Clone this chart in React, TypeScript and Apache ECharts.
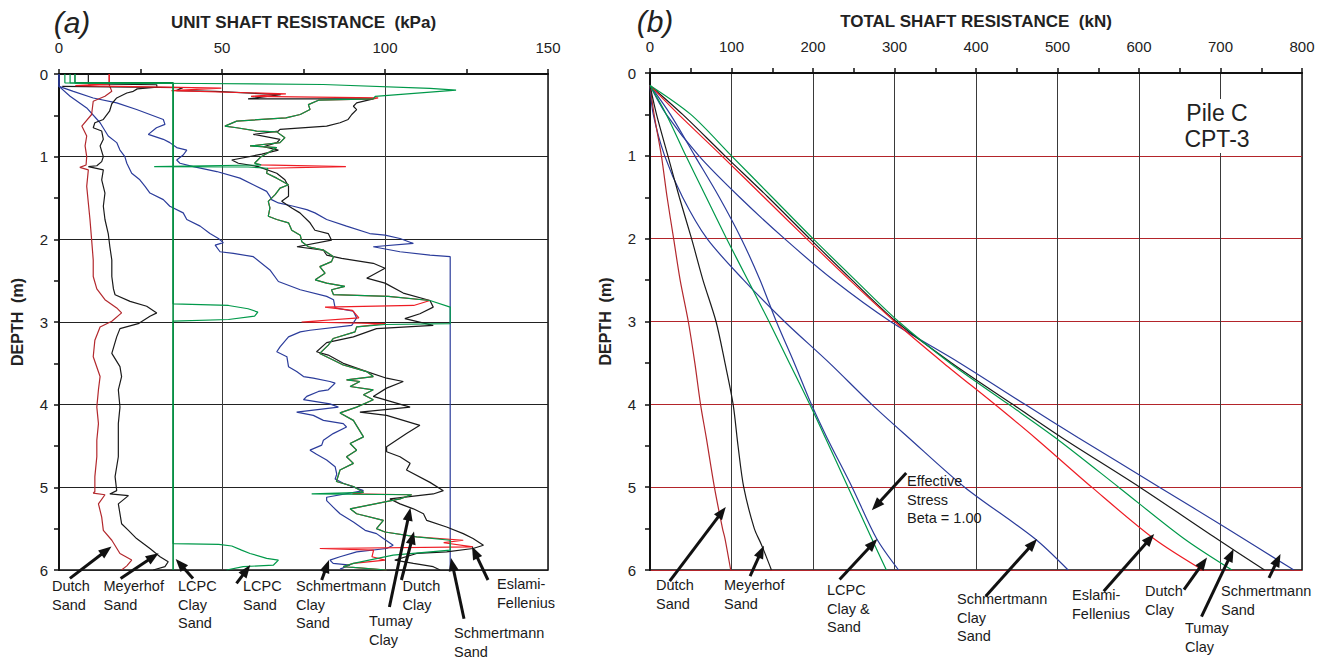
import React, { useEffect, useRef } from "react";
import * as echarts from "echarts";

type Pt = [number, number];

// ---------- Panel (a): unit shaft resistance [kPa, depth m] ----------
const unitDutchSand: Pt[] = [[15.4,0],[15.4,0.13],[16.2,0.21],[14.1,0.27],[10.5,0.33],[10,0.49],[7,0.63],[8.5,0.75],[8,0.87],[8.5,1.0],[8.3,1.1],[6.4,1.13],[9,1.16],[8.5,1.36],[9,1.56],[9.5,1.76],[10,2.0],[10.5,2.25],[10.5,2.45],[11.6,2.6],[14.1,2.73],[17.7,2.83],[19.2,2.89],[16.2,2.99],[12.6,3.06],[11,3.22],[10.5,3.42],[12.6,3.66],[12.1,3.82],[11.6,4.03],[12.1,4.23],[11.6,4.43],[11.6,4.63],[11,4.87],[11,5.05],[10.5,5.07],[14.1,5.09],[12.1,5.2],[13.1,5.36],[13.6,5.52],[16.2,5.64],[18.7,5.8],[22.3,5.88],[20.8,5.95],[19.2,6.0]];
const unitMeyerhofSand: Pt[] = [[9,0],[9,0.12],[30,0.13],[30,0.16],[24,0.18],[22.8,0.21],[20.8,0.23],[17.7,0.29],[16.2,0.36],[15.5,0.45],[13.6,0.55],[11,0.59],[10.5,0.65],[13.1,0.69],[13.6,0.79],[12.6,0.87],[13.6,1.0],[13.1,1.06],[11.6,1.11],[9,1.12],[13.6,1.16],[13.1,1.28],[14.1,1.44],[13.6,1.6],[14.1,1.76],[15.1,1.93],[15.6,2.09],[16.2,2.25],[16.2,2.45],[16.7,2.6],[17.2,2.67],[21.8,2.75],[26.9,2.81],[30,2.89],[27.9,2.93],[24.3,3.02],[18.7,3.08],[17.7,3.18],[16.2,3.38],[18.7,3.54],[19.2,3.66],[18.2,3.82],[18.7,4.03],[18.2,4.23],[18.2,4.43],[18.2,4.63],[17.2,4.87],[17.7,5.04],[15.6,5.08],[21.3,5.1],[18.2,5.2],[19.2,5.44],[21.3,5.52],[23.8,5.62],[27.9,5.74],[31,5.84],[33.5,5.9],[32.5,5.96],[28.9,6.0]];
const unitLcpcClaySand: Pt[] = [[4.9,0],[4.9,0.107],[35,0.107],[35,6]];
const unitLcpcSand: Pt[] = [[1.8,0],[1.8,0.107],[35,0.115],[35,2.78],[52,2.8],[58,2.84],[61,2.88],[60,2.93],[52,2.97],[35,2.99],[35,5.68],[49,5.69],[53,5.71],[56,5.76],[58.6,5.8],[63.7,5.86],[67.3,5.88],[65.8,5.94],[56.5,5.96],[51.4,6.0]];
const unitTumayClay: Pt[] = [[3.4,0],[3.4,0.107],[43,0.115],[81,0.127],[113.8,0.175],[121.8,0.196],[97,0.27],[96.4,0.3],[79.6,0.317],[76.5,0.37],[77,0.43],[74,0.49],[69.6,0.53],[54.5,0.57],[50.9,0.63],[54.5,0.65],[60.6,0.69],[66.8,0.7],[69.3,0.77],[67.8,0.83],[58.6,0.87],[66.8,0.89],[64.7,0.94],[62,1.0],[60,1.08],[62,1.1],[29.2,1.12],[58,1.125],[64,1.14],[63.7,1.2],[66.8,1.26],[70.4,1.34],[67.8,1.38],[66.3,1.46],[64.2,1.54],[64.7,1.62],[64.2,1.72],[66.8,1.76],[70.4,1.8],[71.4,1.89],[74,1.95],[74.5,2.03],[76.5,2.09],[81.1,2.13],[84.2,2.21],[83.6,2.27],[80,2.33],[81.6,2.41],[78.6,2.49],[82.1,2.53],[87.7,2.57],[83.6,2.61],[84.2,2.67],[101,2.69],[113.8,2.74],[120,2.82],[120,3.02],[100,3.03],[91.3,3.06],[90.8,3.12],[84.1,3.2],[82.6,3.28],[80,3.38],[84.1,3.46],[87.2,3.52],[94.4,3.6],[96.4,3.66],[88.2,3.7],[92.3,3.72],[89.3,3.78],[96.4,3.82],[93.4,3.88],[96.4,3.94],[91.3,4.03],[86.2,4.1],[90.3,4.19],[93.4,4.39],[89.3,4.47],[91.3,4.55],[88.2,4.63],[90.3,4.71],[86.2,4.79],[85.1,4.93],[90.3,4.99],[93.4,5.06],[77.5,5.08],[108.2,5.09],[104.6,5.14],[89.3,5.26],[91.3,5.32],[99.5,5.4],[97.4,5.5],[100,5.54],[109.7,5.6],[120,5.64],[120,5.76],[102.5,5.82],[90.3,5.92],[87.2,5.96],[100.5,6.0]];
const unitDutchClay: Pt[] = [[15.4,0],[15.4,0.12],[5,0.14],[49.8,0.17],[34.5,0.2],[69.6,0.24],[58.9,0.27],[97.9,0.29],[96.4,0.3],[79.6,0.317],[76.5,0.37],[77,0.43],[74,0.49],[69.6,0.53],[54.5,0.57],[50.9,0.63],[54.5,0.65],[60.6,0.69],[66.8,0.7],[69.3,0.77],[67.8,0.83],[58.6,0.87],[66.8,0.89],[64.7,0.94],[62,1.0],[60,1.08],[62,1.1],[88,1.12],[64,1.14],[63.7,1.2],[66.8,1.26],[70.4,1.34],[67.8,1.38],[66.3,1.46],[64.2,1.54],[64.7,1.62],[64.2,1.72],[66.8,1.76],[70.4,1.8],[71.4,1.89],[74,1.95],[74.5,2.03],[76.5,2.09],[81.1,2.13],[84.2,2.21],[83.6,2.27],[80,2.33],[81.6,2.41],[78.6,2.49],[82.1,2.53],[87.7,2.57],[83.6,2.61],[84.2,2.67],[101,2.69],[113.8,2.74],[108.8,2.8],[81.6,2.82],[90,2.86],[92,2.95],[74.4,3.0],[100,3.02],[91.3,3.06],[90.8,3.12],[84.1,3.2],[82.6,3.28],[80,3.38],[84.1,3.46],[87.2,3.52],[94.4,3.6],[96.4,3.66],[88.2,3.7],[92.3,3.72],[89.3,3.78],[96.4,3.82],[93.4,3.88],[96.4,3.94],[91.3,4.03],[86.2,4.1],[90.3,4.19],[93.4,4.39],[89.3,4.47],[91.3,4.55],[88.2,4.63],[90.3,4.71],[86.2,4.79],[85.1,4.93],[90.3,4.99],[93.4,5.06],[90,5.08],[108.2,5.09],[104.6,5.14],[89.3,5.26],[91.3,5.32],[99.5,5.4],[97.4,5.5],[100,5.54],[109.7,5.6],[124,5.64],[118,5.67],[127,5.72],[80,5.74],[96.5,5.76],[96,5.84],[100,5.88],[90.3,5.92],[87.2,5.96],[100.5,6.0]];
const unitEslami: Pt[] = [[1,0.15],[38,0.165],[36,0.2],[48,0.21],[68,0.25],[58,0.3],[96.4,0.3],[91.3,0.35],[90.3,0.39],[91.3,0.43],[89.8,0.49],[88.7,0.55],[86.2,0.59],[82.1,0.63],[67.8,0.67],[67.3,0.69],[59.6,0.73],[67.8,0.79],[66.8,0.83],[62.7,0.88],[67.3,0.92],[62.2,0.97],[53,1.04],[55,1.08],[61.1,1.12],[66.8,1.2],[69.3,1.28],[70.4,1.36],[70.4,1.48],[68.3,1.54],[71.4,1.62],[73.9,1.68],[77,1.8],[78.5,1.89],[82.6,1.93],[83.6,2.01],[73,2.09],[81.1,2.13],[82.1,2.19],[86.7,2.23],[96.4,2.29],[100,2.35],[94.4,2.47],[100,2.53],[105.6,2.65],[113.8,2.74],[114.8,2.82],[110.7,2.9],[106.1,2.96],[114.8,3.04],[97.4,3.08],[90.3,3.18],[82.1,3.25],[79,3.36],[82.6,3.4],[87.2,3.5],[94.4,3.6],[100.5,3.68],[105.6,3.72],[100.5,3.8],[96.4,3.9],[107.7,4.03],[92.3,4.09],[100.5,4.13],[110.7,4.25],[106.6,4.35],[100.5,4.51],[100.5,4.57],[104.6,4.63],[107.7,4.71],[106.6,4.79],[113.8,4.94],[117.9,5.04],[114.8,5.08],[101.5,5.14],[104.6,5.2],[108.7,5.26],[111.8,5.32],[112.8,5.4],[118.9,5.48],[124,5.56],[127,5.62],[130.2,5.7],[127,5.74],[118.9,5.78],[109.7,5.8],[103,5.88],[108.7,5.92],[114.8,5.96],[116.9,6.0]];
const unitSchmClaySand: Pt[] = [[0,0],[0,0.15],[3.4,0.27],[8.5,0.41],[12.6,0.59],[15.1,0.75],[17.7,0.83],[18.7,0.92],[20.2,1.0],[20.8,1.08],[22.3,1.2],[24.8,1.28],[26.4,1.36],[27.9,1.44],[32,1.52],[34,1.6],[38.1,1.68],[39.2,1.76],[43.3,1.84],[46.3,1.93],[48.9,1.99],[50.4,2.04],[47.9,2.07],[49.4,2.15],[53.5,2.17],[59.6,2.21],[64.7,2.37],[67.3,2.51],[74,2.61],[82.1,2.69],[84.2,2.73],[84.7,2.83],[90.3,2.87],[91.3,2.95],[89.8,3.04],[77,3.1],[74,3.12],[70.4,3.18],[67.8,3.3],[66.8,3.36],[69.9,3.42],[70.4,3.54],[72.9,3.6],[75,3.66],[78,3.68],[83.1,3.72],[84.7,3.74],[82.6,3.82],[79.6,3.84],[76,3.9],[75,3.94],[83.1,3.99],[85.7,4.03],[72.9,4.09],[78,4.13],[81.1,4.19],[87.2,4.23],[88.2,4.27],[84.1,4.35],[81.1,4.43],[80.6,4.49],[77,4.55],[79,4.6],[82.1,4.67],[84.7,4.75],[85.2,4.84],[84.7,4.9],[87.2,4.95],[93.4,5.04],[82.1,5.12],[82.1,5.16],[84.1,5.24],[86.2,5.32],[90.3,5.42],[93.9,5.52],[97.4,5.56],[99.5,5.62],[102.5,5.7],[100.5,5.74],[91.3,5.78],[86.2,5.84],[83.1,5.88],[84.1,5.92],[89.3,5.94],[86.2,5.99]];
const unitSchmSand: Pt[] = [[0,0],[0,0.15],[4.4,0.21],[10.5,0.29],[17.7,0.35],[23.8,0.43],[27.9,0.49],[32,0.55],[32.5,0.61],[29.9,0.65],[27.4,0.73],[32,0.79],[34,0.83],[36.1,0.89],[39.2,0.92],[38.1,0.98],[36.1,1.04],[37.1,1.08],[41.2,1.12],[48.4,1.18],[55.5,1.26],[59.6,1.34],[63.7,1.42],[64.7,1.48],[65.2,1.52],[67.3,1.56],[71.9,1.6],[76,1.64],[78.5,1.68],[82.1,1.76],[88.2,1.84],[95.3,1.93],[100,1.95],[104.6,1.99],[108.7,2.05],[96.4,2.09],[104.6,2.15],[113.8,2.19],[120,2.21],[120,6.0]];

// ---------- Panel (b): total shaft resistance [kN, depth m] ----------
const totDutchSand: Pt[] = [[0,0.15],[5,0.5],[14,1],[21,1.5],[29,2],[37,2.5],[47,3],[55,3.5],[62,4],[69,4.4],[79,5],[89,5.5],[92,5.62],[99,6]];
const totMeyerhofSand: Pt[] = [[0,0.15],[8,0.5],[22,1],[36,1.5],[51,2],[65,2.5],[81,3],[92,3.5],[102,4],[108,4.5],[115,5],[128,5.5],[137,5.7],[149,6]];
const totLcpc: Pt[] = [[0,0.15],[20,0.5],[44,1],[69,1.5],[94,2],[120,2.5],[146,3],[171,3.5],[196,4],[215,4.4],[243,5],[272,5.62],[290,6]];
const totEffStress: Pt[] = [[0,0.15],[25,0.5],[55,1],[85,1.5],[112,2],[135,2.5],[155,3],[177,3.5],[198,4],[217,4.4],[248,5],[278,5.62],[305,6]];
const totSchmClaySand: Pt[] = [[0,0.15],[4,0.5],[18,1],[40,1.5],[70,2],[115,2.5],[165,3],[220,3.5],[272,4],[317,4.4],[386,5],[472,5.62],[513,6]];
const totEslami: Pt[] = [[0,0.15],[35,0.5],[88,1],[140,1.5],[192,2],[245,2.5],[300,3],[360,3.5],[423,4],[472,4.4],[542,5],[618,5.62],[678,6]];
const totDutchClay: Pt[] = [[0,0.15],[50,0.5],[100,1],[150,1.5],[200,2],[252,2.5],[305,3],[368,3.5],[440,4],[497,4.4],[575,5],[655,5.62],[714,6]];
const totTumayClay: Pt[] = [[0,0.15],[40,0.5],[92,1],[145,1.5],[196,2],[248,2.5],[302,3],[370,3.5],[445,4],[505,4.4],[601,5],[695,5.62],[754,6]];
const totSchmSand: Pt[] = [[0,0.15],[20,0.5],[60,1],[110,1.5],[165,2],[225,2.5],[295,3],[380,3.5],[460,4],[525,4.4],[625,5],[708,5.5],[790,6]];

// ---------- texts ----------
const labelsA = [
  { t: "Dutch\nSand", x: 52, y: 586 },
  { t: "Meyerhof\nSand", x: 103.5, y: 586 },
  { t: "LCPC\nClay\nSand", x: 178, y: 586 },
  { t: "LCPC\nSand", x: 243, y: 586 },
  { t: "Schmertmann\nClay\nSand", x: 296, y: 586 },
  { t: "Dutch\nClay", x: 402.5, y: 586 },
  { t: "Tumay\nClay", x: 369, y: 621 },
  { t: "Schmertmann\nSand", x: 454, y: 633 },
  { t: "Eslami-\nFellenius", x: 497, y: 584 },
];
const labelsB = [
  { t: "Dutch\nSand", x: 656, y: 585 },
  { t: "Meyerhof\nSand", x: 724, y: 585 },
  { t: "LCPC\nClay &\nSand", x: 827, y: 590 },
  { t: "Schmertmann\nClay\nSand", x: 957, y: 599 },
  { t: "Eslami-\nFellenius", x: 1072, y: 595 },
  { t: "Dutch\nClay", x: 1145, y: 591 },
  { t: "Tumay\nClay", x: 1185, y: 628 },
  { t: "Schmertmann\nSand", x: 1221, y: 591 },
  { t: "Effective\nStress\nBeta = 1.00", x: 907, y: 481 },
];
const arrowsA: number[][] = [
  [69.9, 578.4, 111.5, 546.5], [120.6, 578.4, 158.6, 553.2], [193, 578.4, 175.7, 559],
  [236.5, 583.4, 250.3, 565], [321.7, 580, 329, 560], [389.4, 607, 410.4, 507.8],
  [401.4, 580, 414, 531.4], [464, 618.7, 451, 558], [488, 580, 472, 546.5],
];
const arrowsB: number[][] = [
  [669.7, 581.2, 725.8, 506.9], [750.1, 576.2, 763.9, 545.7], [839.6, 579.5, 877.3, 539],
  [906.2, 473.1, 871.8, 510.3], [985.7, 596.3, 1037.1, 539], [1103.7, 591.3, 1154.2, 533.9],
  [1184, 589.6, 1207, 557.5], [1201.5, 616.6, 1233.6, 549], [1269, 577.8, 1280.5, 554.1],
];

const FONT = "'Liberation Sans', Arial, Helvetica, sans-serif";
const RED = "#ee1c24";
const DARKRED = "#b3282d";
const GREEN = "#00994a";
const BLUE = "#2b3c9b";
const BLACK = "#1a1a1a";

function arrow(a: number[]) {
  const [x1, y1, x2, y2] = a;
  const dx = x2 - x1, dy = y2 - y1;
  const L = Math.hypot(dx, dy);
  const ux = dx / L, uy = dy / L;
  const hl = 13, hw = 5;
  const bx = x2 - ux * hl, by = y2 - uy * hl;
  return [
    { type: "line", silent: true, z: 50, shape: { x1, y1, x2: bx + ux * 2, y2: by + uy * 2 }, style: { stroke: "#111", lineWidth: 3 } },
    { type: "polygon", silent: true, z: 50, shape: { points: [[x2, y2], [bx - uy * hw, by + ux * hw], [bx + uy * hw, by - ux * hw]] }, style: { fill: "#111" } },
  ];
}

function label(l: { t: string; x: number; y: number }) {
  return {
    type: "text", silent: true, z: 50, x: l.x, y: l.y - 9.5,
    style: { text: l.t, fill: "#1a1a1a", font: `14.5px ${FONT}`, lineHeight: 18.7, align: "left", verticalAlign: "top" },
  };
}

function ser(name: string, data: Pt[], color: string, idx: number, width = 1.2, smooth: number | boolean = false) {
  return {
    type: "line", name, data, xAxisIndex: idx, yAxisIndex: idx, showSymbol: false, symbol: "none",
    lineStyle: { color, width }, itemStyle: { color }, silent: true, z: 3, clip: true, smooth,
  };
}

const tickStyle = { color: "#111", width: 1.5 };

function xAx(idx: number, max: number, interval: number, name: string) {
  return {
    gridIndex: idx, type: "value", position: "top", min: 0, max, interval,
    name, nameLocation: "middle", nameGap: 43,
    nameTextStyle: { fontFamily: FONT, fontWeight: "bold", fontSize: 17, color: "#222" },
    axisLine: { show: true, onZero: false, lineStyle: { color: "#111", width: 2 } },
    axisTick: { show: true, length: 5, lineStyle: tickStyle },
    minorTick: { show: true, splitNumber: 2, length: 5, lineStyle: tickStyle },
    splitLine: { show: true, lineStyle: { color: "#3a3a3a", width: 1 } },
    axisLabel: { fontFamily: FONT, fontSize: 15, color: "#222", margin: 19 },
  };
}
function yAx(idx: number, gridColor: string, gap: number, margin: number) {
  return {
    gridIndex: idx, type: "value", inverse: true, min: 0, max: 6, interval: 1,
    name: "DEPTH  (m)", nameLocation: "middle", nameGap: gap, nameRotate: 90,
    nameTextStyle: { fontFamily: FONT, fontWeight: "bold", fontSize: 16, color: "#222" },
    axisLine: { show: true, onZero: false, lineStyle: { color: "#111", width: 2 } },
    axisTick: { show: true, length: 5, lineStyle: tickStyle },
    minorTick: { show: true, splitNumber: 2, length: 5, lineStyle: tickStyle },
    splitLine: { show: true, lineStyle: { color: gridColor, width: 1 } },
    axisLabel: { fontFamily: FONT, fontSize: 15, color: "#222", margin },
  };
}

export default function App() {
  const ref = useRef<HTMLDivElement>(null);
  useEffect(() => {
    if (!ref.current) return;
    const chart = echarts.init(ref.current, null, { renderer: "svg" });
    const graphics: any[] = [];
    labelsA.forEach((l) => graphics.push(label(l)));
    labelsB.forEach((l) => graphics.push(label(l)));
    arrowsA.forEach((a) => graphics.push(...arrow(a)));
    arrowsB.forEach((a) => graphics.push(...arrow(a)));
    graphics.push({ type: "text", silent: true, x: 72, y: 22, style: { text: "(a)", font: `italic 30px ${FONT}`, fill: "#222", align: "center", verticalAlign: "middle" } });
    graphics.push({ type: "text", silent: true, x: 655, y: 21, style: { text: "(b)", font: `italic 30px ${FONT}`, fill: "#222", align: "center", verticalAlign: "middle" } });
    graphics.push({ type: "rect", silent: true, z: 40, shape: { x: 1182, y: 99, width: 70, height: 54 }, style: { fill: "#fff" } });
    graphics.push({ type: "text", silent: true, z: 41, x: 1217, y: 113, style: { text: "Pile C", font: `23px ${FONT}`, fill: "#222", align: "center", verticalAlign: "middle" } });
    graphics.push({ type: "text", silent: true, z: 41, x: 1217, y: 139, style: { text: "CPT-3", font: `23px ${FONT}`, fill: "#222", align: "center", verticalAlign: "middle" } });

    const S = 0.3;
    const option: any = {
      animation: false,
      backgroundColor: "#fff",
      textStyle: { fontFamily: FONT },
      grid: [
        { left: 59, top: 74, width: 489, height: 496, show: true, borderColor: "#111", borderWidth: 1.5, backgroundColor: "transparent" },
        { left: 650, top: 73, width: 652, height: 497, show: true, borderColor: "#111", borderWidth: 1.5, backgroundColor: "transparent" },
      ],
      xAxis: [
        xAx(0, 150, 50, "UNIT SHAFT RESISTANCE  (kPa)"),
        xAx(1, 800, 100, "TOTAL SHAFT RESISTANCE  (kN)"),
      ],
      yAxis: [yAx(0, "#222", 34, 11), yAx(1, "#b3242a", 37, 14)],
      series: [
        ser("Schmertmann Clay Sand", unitSchmClaySand, BLUE, 0),
        ser("Schmertmann Sand", unitSchmSand, BLUE, 0),
        ser("Dutch Sand", unitDutchSand, DARKRED, 0),
        ser("Meyerhof Sand", unitMeyerhofSand, BLACK, 0),
        ser("Eslami-Fellenius", unitEslami, BLACK, 0),
        ser("Dutch Clay", unitDutchClay, RED, 0),
        ser("LCPC Sand", unitLcpcSand, GREEN, 0),
        ser("LCPC Clay Sand", unitLcpcClaySand, "#008a3e", 0, 1.6),
        ser("Tumay Clay", unitTumayClay, GREEN, 0),

        ser("Effective Stress Beta = 1.00", totEffStress, BLUE, 1, 1.2, S),
        ser("Schmertmann Clay Sand", totSchmClaySand, BLUE, 1, 1.2, S),
        ser("Schmertmann Sand", totSchmSand, BLUE, 1, 1.2, S),
        ser("Dutch Sand", totDutchSand, DARKRED, 1, 1.2, S),
        ser("Meyerhof Sand", totMeyerhofSand, BLACK, 1, 1.2, S),
        ser("Tumay Clay", totTumayClay, BLACK, 1, 1.2, S),
        ser("Eslami-Fellenius", totEslami, RED, 1, 1.2, S),
        ser("LCPC Clay & Sand", totLcpc, GREEN, 1, 1.2, S),
        ser("Dutch Clay", totDutchClay, GREEN, 1, 1.2, S),
      ],
      graphic: graphics,
    };
    chart.setOption(option);
    return () => chart.dispose();
  }, []);
  return (
    <div
      ref={ref}
      style={{ position: "absolute", left: 0, top: 0, width: 1326, height: 659, background: "#fff" }}
    />
  );
}
